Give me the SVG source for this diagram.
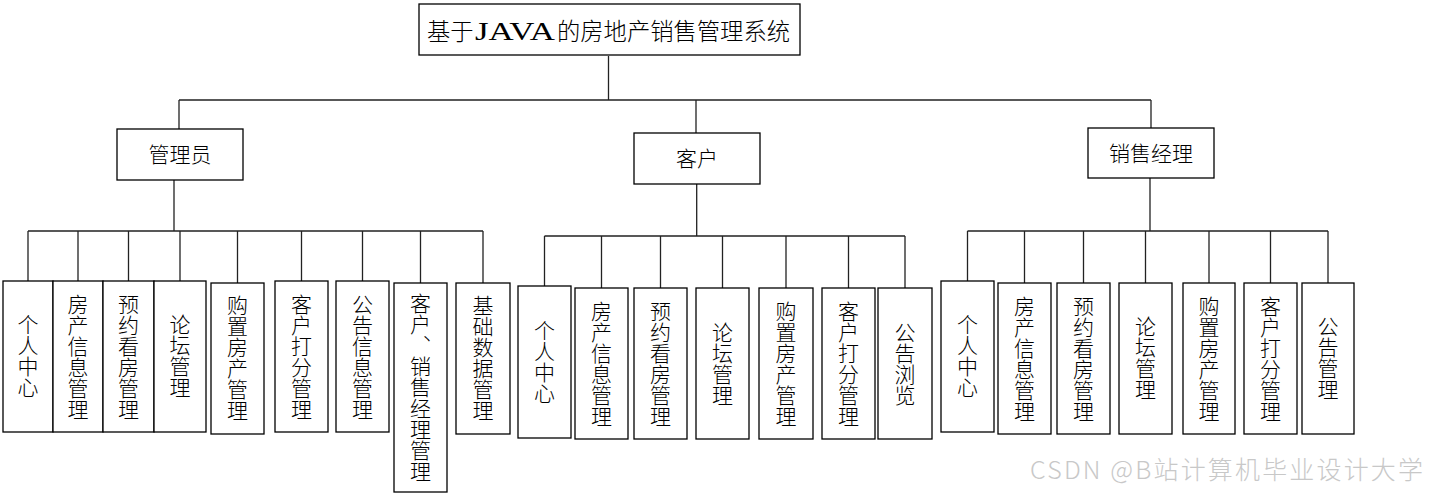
<svg xmlns="http://www.w3.org/2000/svg" width="1430" height="495" viewBox="0 0 1430 495">
<style>
.box{fill:#fff;stroke:#000;stroke-width:1.3}
.ln{fill:none;stroke:#222;stroke-width:1.3}
.t{font-family:"Noto Sans CJK SC","Liberation Sans",sans-serif;font-size:21px;font-weight:300;fill:#000;text-anchor:middle}
.v{font-family:"Noto Sans CJK SC","Liberation Sans",sans-serif;font-size:21px;font-weight:300;fill:#000;text-anchor:middle;writing-mode:vertical-rl;glyph-orientation-vertical:0}
.tc{font-family:"Noto Sans CJK SC","Liberation Sans",sans-serif;font-size:23.3px;font-weight:300;fill:#000}
.tl{font-family:"Liberation Serif","Noto Sans CJK SC",serif;font-size:26px;fill:#000}
.wm{font-family:"Noto Sans CJK SC","Liberation Sans",sans-serif;font-size:25px;font-weight:300;fill:#c8c8c8}
</style>
<rect width="1430" height="495" fill="#fff"/>
<g id="connectors">
<path class="ln" d="M608.5 56V100M179 100H1151M179 100V129M696 100V133M1151 100V128"/>
<path class="ln" d="M174 180V231M28 231H483M28 231V281M78 231V281M128.5 231V281M180 231V281M237.5 231V283M301.5 231V281M362.5 231V281M420.5 231V283M483 231V283"/>
<path class="ln" d="M696.7 184V236M544.5 236H905M544.5 236V286M601.5 236V288M660.5 236V288M722.5 236V288M786 236V288M848.5 236V288M905 236V288"/>
<path class="ln" d="M1150 178V231M967.5 231H1328M967.5 231V281M1024.5 231V283M1083.5 231V283M1145.5 231V283M1209 231V283M1270.5 231V283M1328 231V283"/>
</g>
<g id="root"><rect class="box" x="419" y="4" width="381" height="51"/><text class="tc" x="427" y="40">基于</text><text class="tl" x="475" y="40" textLength="80" lengthAdjust="spacingAndGlyphs">JAVA</text><text class="tc" x="557" y="40" textLength="233" lengthAdjust="spacing">的房地产销售管理系统</text></g>
<g id="admin"><rect class="box" x="117" y="129" width="126" height="51"/><text class="t" x="180" y="162">管理员</text></g>
<g id="customer"><rect class="box" x="634" y="133" width="126" height="51"/><text class="t" x="697" y="166">客户</text></g>
<g id="manager"><rect class="box" x="1088" y="128" width="126" height="50"/><text class="t" x="1151" y="161">销售经理</text></g>

<g id="a1"><rect class="box" x="3" y="281" width="50" height="151"/><text class="v" x="28" y="356">个人中心</text></g>
<g id="a2"><rect class="box" x="53" y="281" width="50" height="151"/><text class="v" x="78" y="356.5">房产信息管理</text></g>
<g id="a3"><rect class="box" x="103" y="281" width="51" height="151"/><text class="v" x="128.5" y="356.5">预约看房管理</text></g>
<g id="a4"><rect class="box" x="154" y="281" width="52" height="151"/><text class="v" x="180" y="356">论坛管理</text></g>
<g id="a5"><rect class="box" x="211" y="283" width="53" height="151"/><text class="v" x="237.5" y="358">购置房产管理</text></g>
<g id="a6"><rect class="box" x="275" y="281" width="53" height="151"/><text class="v" x="301.5" y="356.5">客户打分管理</text></g>
<g id="a7"><rect class="box" x="336" y="281" width="53" height="151"/><text class="v" x="362.5" y="356.5">公告信息管理</text></g>
<g id="a8"><rect class="box" x="394" y="283" width="53" height="209"/><text class="v" x="420.5" y="387">客户、销售经理管理</text></g>
<g id="a9"><rect class="box" x="456" y="283" width="54" height="151"/><text class="v" x="483" y="358">基础数据管理</text></g>

<g id="b1"><rect class="box" x="518" y="286" width="53" height="152"/><text class="v" x="544.5" y="362">个人中心</text></g>
<g id="b2"><rect class="box" x="575" y="288" width="53" height="151"/><text class="v" x="601.5" y="364">房产信息管理</text></g>
<g id="b3"><rect class="box" x="634" y="288" width="53" height="151"/><text class="v" x="660.5" y="364">预约看房管理</text></g>
<g id="b4"><rect class="box" x="696" y="288" width="53" height="151"/><text class="v" x="722.5" y="364">论坛管理</text></g>
<g id="b5"><rect class="box" x="759" y="288" width="54" height="151"/><text class="v" x="786" y="364">购置房产管理</text></g>
<g id="b6"><rect class="box" x="822" y="288" width="53" height="151"/><text class="v" x="848.5" y="364">客户打分管理</text></g>
<g id="b7"><rect class="box" x="878" y="288" width="54" height="151"/><text class="v" x="905" y="364">公告浏览</text></g>

<g id="c1"><rect class="box" x="941" y="281" width="53" height="151"/><text class="v" x="967.5" y="356">个人中心</text></g>
<g id="c2"><rect class="box" x="998" y="283" width="53" height="151"/><text class="v" x="1024.5" y="358.5">房产信息管理</text></g>
<g id="c3"><rect class="box" x="1057" y="283" width="53" height="151"/><text class="v" x="1083.5" y="358.5">预约看房管理</text></g>
<g id="c4"><rect class="box" x="1119" y="283" width="53" height="151"/><text class="v" x="1145.5" y="358">论坛管理</text></g>
<g id="c5"><rect class="box" x="1183" y="283" width="52" height="151"/><text class="v" x="1209" y="358.5">购置房产管理</text></g>
<g id="c6"><rect class="box" x="1244" y="283" width="53" height="151"/><text class="v" x="1270.5" y="358.5">客户打分管理</text></g>
<g id="c7"><rect class="box" x="1302" y="283" width="52" height="151"/><text class="v" x="1328" y="358">公告管理</text></g>

<text class="wm" x="1030" y="479" textLength="393" lengthAdjust="spacing">CSDN @B站计算机毕业设计大学</text>
</svg>
